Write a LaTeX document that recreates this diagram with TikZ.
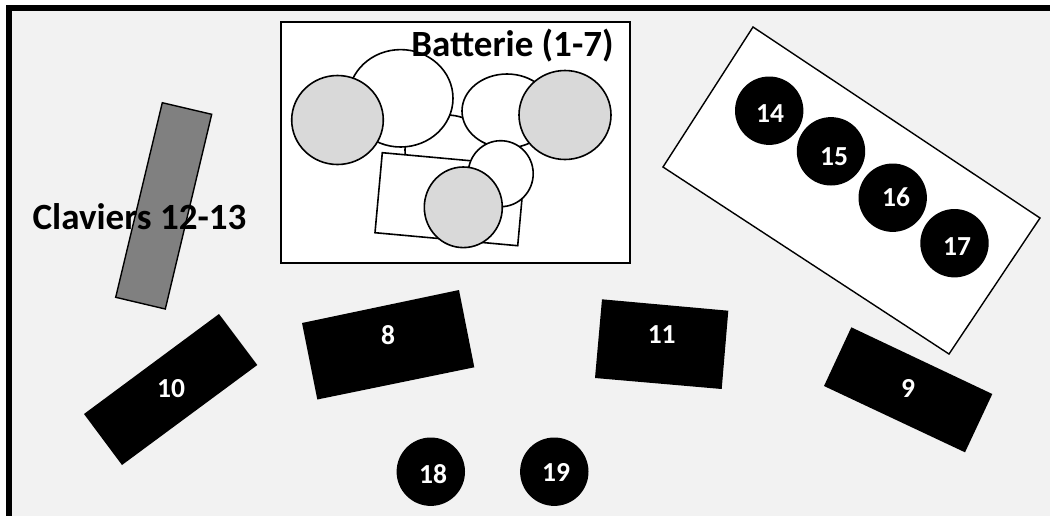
\documentclass[tikz,border=0pt]{standalone}
\usepackage{fontspec}
\setmainfont{Carlito}
\definecolor{stagebg}{HTML}{F2F2F2}
\definecolor{cymbal}{HTML}{D9D9D9}
\definecolor{clavier}{HTML}{808080}
\tikzset{
  drum/.style={draw=black,fill=white,line width=1.6pt},
  cymbalfill/.style={draw=black,fill=cymbal,line width=1.6pt},
  amp/.style={fill=black},
  numlabel/.style={text=white,font=\fontsize{27.5}{32}\selectfont\bfseries,inner sep=0pt},
  disc/.style={circle,fill=black,inner sep=0pt,minimum size=68.4pt},
  title/.style={text=black,font=\fontsize{37}{44}\selectfont\bfseries,inner sep=0pt,anchor=base}
}
\begin{document}
\begin{tikzpicture}[x=1pt,y=-1pt]
\clip (0,0) rectangle (1050,515);
\useasboundingbox (0,0) rectangle (1050,515);
\draw[line width=6pt,fill=stagebg] (9,8) rectangle (1070,535);
% drum kit
\draw[black,fill=white,line width=1.6pt] (281,22) rectangle (630,263);
\draw[drum] (446.7,150) ellipse (41.7 and 35);
\draw[drum] (400.7,98.3) ellipse (52.3 and 48.7);
\draw[drum] (507,111) ellipse (45 and 37);
\draw[drum] (382.3,152.7) -- (525,165.7) -- (517.7,245.7) -- (375,232.7) -- cycle;
\draw[drum] (500.7,173.7) ellipse (32.5 and 33);
\draw[cymbalfill] (337.5,120) ellipse (45.8 and 44.5);
\draw[cymbalfill] (565,115) ellipse (46 and 44.5);
\draw[cymbalfill] (463.3,207.3) ellipse (39 and 40.3);
\node[title] (batterie) at (512.5,56) {Batterie (1-7)};
% keyboards
\draw[draw=black,fill=clavier,line width=1.4pt] (162.3,102.7) -- (211.7,114.3) -- (165.3,309) -- (115.7,297.3) -- cycle;
\node[title] (claviers) at (139.5,229.3) {Claviers 12-13};
% monitors
\draw[black,fill=white,line width=1.4pt] (753,27) -- (1040,218) -- (949,354) -- (663,167) -- cycle;
\fill[amp] (219,314) -- (257.3,365) -- (122,465) -- (84,414) -- cycle;
\fill[amp] (459,290) -- (474.3,367.3) -- (317.3,399.5) -- (302,323) -- cycle;
\fill[amp] (602,299.3) -- (728.3,310.7) -- (721.7,389) -- (595,378) -- cycle;
\fill[amp] (851.3,327.3) -- (992.3,394) -- (965,452.3) -- (824,386) -- cycle;
\node[numlabel] (n10) at (171,388.7) {10};
\node[numlabel] (n8) at (388,335) {8};
\node[numlabel] (n11) at (661.7,335) {11};
\node[numlabel] (n9) at (908,388) {9};
% round ones
\node[disc] (d14) at (769.2,110.7) {};
\node[disc] (d15) at (831,151.3) {};
\node[disc] (d16) at (892.7,197.7) {};
\node[disc] (d17) at (954.5,243.2) {};
\node[disc] (d18) at (430.8,471.7) {};
\node[disc] (d19) at (554.3,471.7) {};
\node[numlabel] (n14) at (770,114) {14};
\node[numlabel] (n15) at (834,157) {15};
\node[numlabel] (n16) at (896,197.3) {16};
\node[numlabel] (n17) at (957,247) {17};
\node[numlabel] (n18) at (433,474.5) {18};
\node[numlabel] (n19) at (556,472.8) {19};
\end{tikzpicture}
\end{document}
